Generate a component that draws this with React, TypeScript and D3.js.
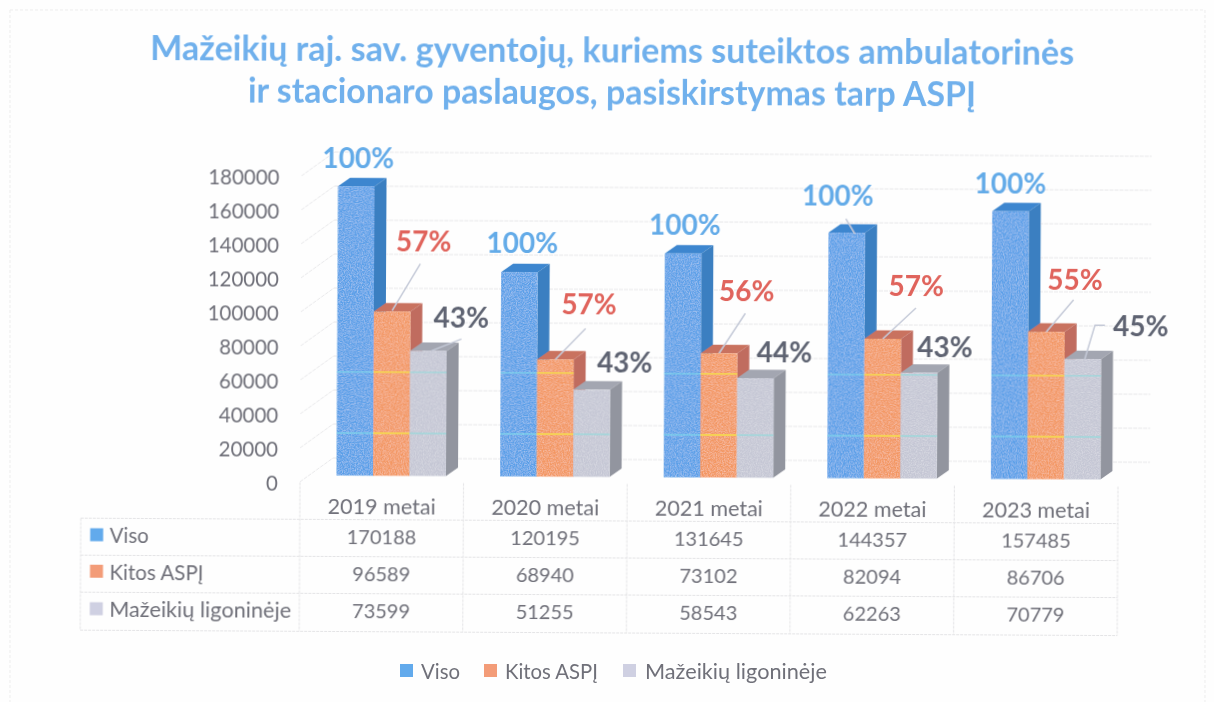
import React from "react";
import * as d3 from "d3";

const categories = ["2019 metai", "2020 metai", "2021 metai", "2022 metai", "2023 metai"];
const seriesNames = ["Viso", "Kitos ASPĮ", "Mažeikių ligoninėje"];
const viso = [170188, 120195, 131645, 144357, 157485];
const kitos = [96589, 68940, 73102, 82094, 86706];
const mazeikiu = [73599, 51255, 58543, 62263, 70779];
const visoPct = ["100%", "100%", "100%", "100%", "100%"];
const kitosPct = ["57%", "57%", "56%", "57%", "55%"];
const mazeikiuPct = ["43%", "43%", "44%", "43%", "45%"];
const yTicks = [0, 20000, 40000, 60000, 80000, 100000, 120000, 140000, 160000, 180000];
const titleLines = [
  "Mažeikių raj. sav. gyventojų, kuriems suteiktos ambulatorinės",
  "ir stacionaro paslaugos, pasiskirstymas tarp ASPĮ",
];

// layout only: label offsets from the top of each bar, and leader vectors
const labelDx = [[20, 21, 20, 9, 18], [86, 88, 82, 88, 83], [124, 124, 120, 117, 149]];
const labelDy = [[-29, -30, -29.5, -38, -29], [-71, -56, -63, -54, -53], [-34, -28, -27, -27, -34]];
const leaders: [number, number, number[][]][] = [
  [0, 3, [[8, 1], [-1, -14]]],
  [1, 0, [[0, -1], [28, -48]]],
  [1, 1, [[0, 0], [30, -31]]],
  [1, 2, [[0, 0], [26, -40]]],
  [1, 3, [[0, 0], [33, -31]]],
  [1, 4, [[0, 0], [27, -32]]],
  [2, 0, [[3, 0], [33, -12]]],
  [2, 4, [[2, 0], [12, -34], [22, -34]]],
];

const streaks = [61000, 25000];

const fonts = "Lato, 'Open Sans', sans-serif";
const textGrey = "#6f7079";
const front = ["#589fe8", "#f39661", "#c4c6d4"];
const side = ["#3a7fc1", "#c06c5f", "#92959f"];
const top = ["#3c86cf", "#c9725f", "#a3a6b1"];
const swatch = ["#62aaec", "#f39c78", "#cfd0e2"];
const labelColor = ["#64abe8", "#e0635b", "#5e6472"];
const streakColor = ["#7fdcec", "#f6d652", "#8fdcdc"];

const values = [viso, kitos, mazeikiu];
const pcts = [visoPct, kitosPct, mazeikiuPct];

const y = d3.scaleLinear().domain([0, 180000]).range([475.5, 169.5]);
const band = d3.scaleBand<string>().domain(categories).range([300, 1118]).padding(0);
const barOffset = 36.5;
const barW = 36.5;
const depthX = 12;
const depthY = 8.5;
const wallX = 33;
const wallY = 17.5;

const line = d3.line<number[]>();
const poly = (pts: number[][]) => line(pts) + "Z";

const rowLines = [519.5, 556.5, 593.5, 631.5];
const rowCenter = [536, 572.5, 610];

export default function App() {
  return (
    <svg width={1214} height={702} style={{ position: "absolute", left: 0, top: 0, background: "#fefefe" }} fontFamily={fonts}>
      <defs>
        <filter id="grain" x="0" y="0" width="100%" height="100%">
          <feTurbulence type="fractalNoise" baseFrequency="0.85" numOctaves={2} seed={4} result="n" />
          <feColorMatrix in="n" type="matrix" values="0 0 0 0 1  0 0 0 0 1  0 0 0 0 1  0.7 0 0 0 -0.26" result="w" />
          <feComposite in="w" in2="SourceAlpha" operator="in" result="g" />
          <feMerge>
            <feMergeNode in="SourceGraphic" />
            <feMergeNode in="g" />
          </feMerge>
        </filter>
        <filter id="soft" x="-2%" y="-2%" width="104%" height="104%">
          <feGaussianBlur stdDeviation="0.35" />
        </filter>
      </defs>

      <path d="M10,10 L1205,10 L1205,702 M10,10 L10,702" fill="none" stroke="#ededed" strokeWidth={1} strokeDasharray="3 2" />

      <g transform="rotate(0.3 337 475)" filter="url(#soft)">
        {titleLines.map((t, i) => (
          <text key={t} x={610} y={[61, 103][i]} textAnchor="middle" fontWeight={700} fontSize={34} fill="#70b0ec"
            textLength={[924, 728][i]} lengthAdjust="spacingAndGlyphs">{t}</text>
        ))}

        {/* back wall grid and left wall */}
        {yTicks.map((v) => (
          <g key={v} stroke="#e8e8ea" strokeWidth={1} strokeDasharray="4 1">
            <line x1={300 + wallX} x2={1150} y1={y(v) - wallY} y2={y(v) - wallY} />
            <line x1={300} x2={300 + wallX} y1={y(v) + 6.5} y2={y(v) - wallY} />
          </g>
        ))}
        {yTicks.map((v) => (
          <text key={v} x={278} y={y(v) + 7} textAnchor="end" dominantBaseline="central" fontSize={20.5} fill={textGrey}>{v}</text>
        ))}

        {/* bars */}
        {categories.map((c, i) => {
          const x0 = (band(c) as number) + barOffset;
          return (
            <g key={c}>
              {values.map((vals, s) => {
                const x = x0 + s * barW;
                const t = y(vals[i]);
                const b = y(0);
                return (
                  <g key={s}>
                    <path d={poly([[x, t], [x + depthX, t - depthY], [x + barW + depthX, t - depthY], [x + barW, t]])} fill={top[s]} />
                    <path d={poly([[x + barW, t], [x + barW + depthX, t - depthY], [x + barW + depthX, b - depthY], [x + barW, b]])} fill={side[s]} />
                    <rect x={x} y={t} width={barW} height={b - t} fill={front[s]} filter="url(#grain)" />
                    {streaks.filter((v) => v < vals[i]).map((v) => (
                      <line key={v} x1={x} x2={x + barW} y1={y(v)} y2={y(v)} stroke={streakColor[s]} strokeWidth={1.8} opacity={s === 1 ? 0.9 : 0.55} />
                    ))}
                  </g>
                );
              })}
            </g>
          );
        })}

        {/* leader lines */}
        {leaders.map(([s, i, pts], k) => {
          const x0 = (band(categories[i]) as number) + barOffset + s * barW + barW / 2;
          const t = y(values[s][i]);
          return (
            <path key={k} d={line(pts.map((p) => [x0 + p[0], t + p[1]])) as string} fill="none" stroke="#c5cad8" strokeWidth={1.5} />
          );
        })}

        {/* percentage labels */}
        {pcts.map((labels, s) =>
          labels.map((lab, i) => (
            <text key={`${s}-${i}`} x={(band(categories[i]) as number) + barOffset + labelDx[s][i]} y={y(values[s][i]) + labelDy[s][i]}
              textAnchor="middle" dominantBaseline="central" fontWeight={700} fontSize={28} fill={labelColor[s]}>{lab}</text>
          ))
        )}

        {/* data table */}
        <g stroke="#e4e4e6" strokeWidth={1} strokeDasharray="3 1" fill="none">
          {rowLines.map((ry) => (<line key={ry} x1={81} x2={1118} y1={ry} y2={ry} />))}
          <line x1={81} x2={81} y1={rowLines[0]} y2={rowLines[3]} />
          {categories.map((c) => (
            <line key={c} x1={band(c) as number} x2={band(c) as number} y1={y(0) + 7} y2={rowLines[3]} />
          ))}
          <line x1={1118} x2={1118} y1={y(0) + 7} y2={rowLines[3]} />
        </g>
        {categories.map((c) => (
          <text key={c} x={(band(c) as number) + band.bandwidth() / 2} y={505} textAnchor="middle" dominantBaseline="central" fontSize={21} fill={textGrey}
            textLength={108} lengthAdjust="spacingAndGlyphs">{c}</text>
        ))}
        {seriesNames.map((n, s) => (
          <g key={n}>
            <rect x={90.5} y={rowCenter[s] - 6.5} width={13} height={13} fill={swatch[s]} />
            <text x={110} y={rowCenter[s]} dominantBaseline="central" fontSize={s === 2 ? 21.5 : 20.5} fill={textGrey}
              textLength={[39, 94, 182][s]} lengthAdjust="spacingAndGlyphs">{n}</text>
            {categories.map((c, i) => (
              <text key={c} x={(band(c) as number) + band.bandwidth() / 2} y={rowCenter[s]} textAnchor="middle" dominantBaseline="central" fontSize={20} fill={textGrey}>{values[s][i]}</text>
            ))}
          </g>
        ))}
      </g>

      {/* legend */}
      <g filter="url(#soft)">
        {seriesNames.map((n, s) => {
          const lx = [400, 484, 623][s];
          return (
            <g key={n}>
              <rect x={lx} y={664} width={13} height={13} fill={swatch[s]} />
              <text x={lx + 19 + (s === 2 ? 3 : 2)} y={671} dominantBaseline="central" fontSize={s === 2 ? 21.5 : 20.5} fill={textGrey}
                textLength={[39, 93, 182][s]} lengthAdjust="spacingAndGlyphs">{n}</text>
            </g>
          );
        })}
      </g>
    </svg>
  );
}
